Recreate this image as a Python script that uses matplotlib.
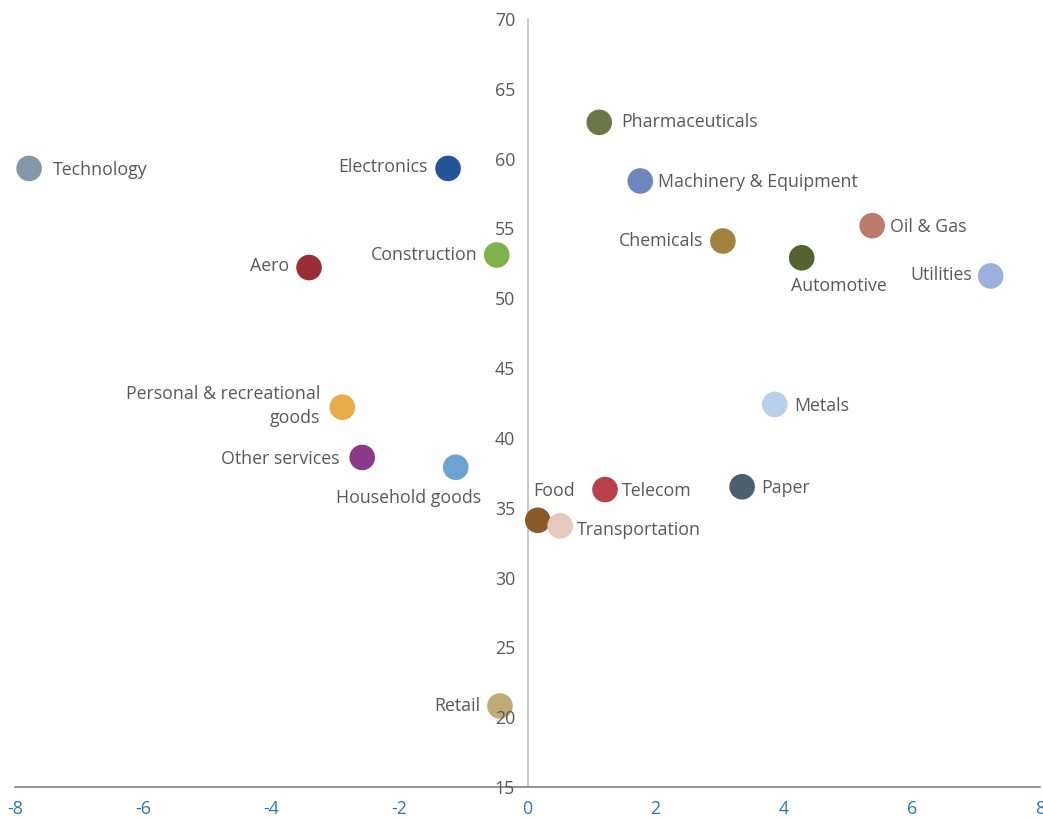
import matplotlib
matplotlib.use('Agg')
import matplotlib.pyplot as plt

plt.rcParams['font.family'] = ['Open Sans', 'DejaVu Sans']
plt.rcParams['axes.unicode_minus'] = False

# sector values
sectors     = ['Technology', 'Electronics', 'Aero', 'Construction', 'Pharmaceuticals',
               'Machinery & Equipment', 'Chemicals', 'Automotive', 'Oil & Gas', 'Utilities',
               'Personal & recreational\ngoods', 'Other services', 'Household goods', 'Metals',
               'Food', 'Transportation', 'Telecom', 'Paper', 'Retail']
x_vals      = [-7.78, -1.24, -3.41, -0.48, 1.12,
               1.76, 3.05, 4.28, 5.38, 7.23,
               -2.89, -2.58, -1.12, 3.86,
               0.16, 0.51, 1.21, 3.35, -0.43]
y_vals      = [59.3, 59.3, 52.2, 53.1, 62.6,
               58.4, 54.1, 52.9, 55.2, 51.6,
               42.2, 38.6, 37.9, 42.4,
               34.1, 33.7, 36.3, 36.5, 20.8]
x_ticks     = [-8, -6, -4, -2, 0, 2, 4, 6, 8]
y_ticks     = [15, 20, 25, 30, 35, 40, 45, 50, 55, 60, 65, 70]

colors      = ['#8497A6', '#22559A', '#9B2E34', '#7FB24A', '#6B7748',
               '#6E87BF', '#A0843D', '#546131', '#BC7B6C', '#9BB0DC',
               '#E8AB47', '#8B3A8B', '#6CA3D3', '#B9D0EB',
               '#8B5A2B', '#E4C9BC', '#B9404A', '#4C5F6F', '#BFAA78']

# label placement (offset in points, horizontal alignment)
label_pos   = {
    'Technology':               ((17, -1), 'left'),
    'Electronics':              ((-15, 1), 'right'),
    'Aero':                     ((-14, 1), 'right'),
    'Construction':             ((-14, 0), 'right'),
    'Pharmaceuticals':          ((16, 0), 'left'),
    'Machinery & Equipment':    ((13, -1), 'left'),
    'Chemicals':                ((-14, 0), 'right'),
    'Automotive':               ((27, -20), 'center'),
    'Oil & Gas':                ((13, -1), 'left'),
    'Utilities':                ((-13, 1), 'right'),
    'Personal & recreational\ngoods': ((-16, 1), 'right'),
    'Other services':           ((-16, -1), 'right'),
    'Household goods':          ((-34, -22), 'center'),
    'Metals':                   ((14, -1), 'left'),
    'Food':                     ((12, 21), 'center'),
    'Transportation':           ((12, -3), 'left'),
    'Telecom':                  ((12, -1), 'left'),
    'Paper':                    ((14, -1), 'left'),
    'Retail':                   ((-14, 0), 'right'),
}

fig     = plt.figure(figsize = (10.43, 8.19), dpi = 100)
ax      = fig.add_axes([15 / 1043, 32 / 819, 1025 / 1043, 768 / 819])

ax.scatter(x_vals, y_vals, s = 340, c = colors, linewidths = 0, zorder = 3)

for name, xv, yv in zip(sectors, x_vals, y_vals):
    off, ha = label_pos[name]
    ax.annotate(name, (xv, yv), xytext = off, textcoords = 'offset points',
                ha = ha, va = 'center', fontsize = 12.8, color = '#595959',
                multialignment = 'right', linespacing = 1.45, zorder = 4)

ax.set_xlim(-8, 8)
ax.set_ylim(15, 70)
ax.set_xticks(x_ticks)
ax.set_yticks(y_ticks)

ax.spines['top'].set_visible(False)
ax.spines['right'].set_visible(False)
ax.spines['left'].set_position(('data', 0))
ax.spines['left'].set_color('#BFBFBF')
ax.spines['left'].set_linewidth(1.2)
ax.spines['bottom'].set_color('#808080')
ax.spines['bottom'].set_linewidth(1.2)
ax.spines['left'].set_zorder(2)

ax.tick_params(axis = 'x', length = 0, pad = 9, labelsize = 12.8, labelcolor = '#2E75B6')
ax.tick_params(axis = 'y', length = 0, pad = 9, labelsize = 12.8, labelcolor = '#595959')
ax.yaxis.set_zorder(5)

fig.savefig('out.png', dpi = 100)
